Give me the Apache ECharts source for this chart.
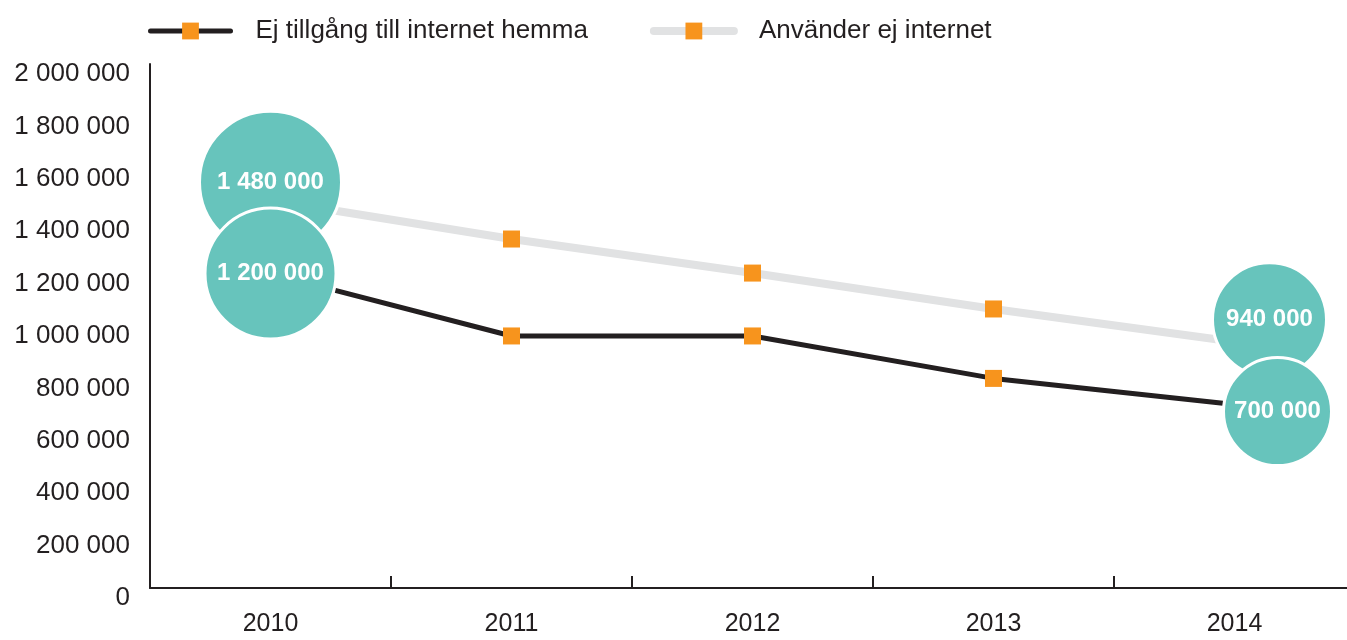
<!DOCTYPE html>
<html>
<head>
<meta charset="utf-8">
<title>Internet hemma</title>
<script src="https://cdn.jsdelivr.net/npm/echarts@6/dist/echarts.min.js"></script>
<style>
    html, body { margin: 0; padding: 0; background: #fff; }
    #main { width: 1347px; height: 640px; }
</style>
</head>
<body>
<div id="main"></div>
<script>
    // data
    var years = ['2010', '2011', '2012', '2013', '2014'];
    var noAccessHome = [1200000, 962000, 962000, 800000, 700000];
    var nonUsers = [1480000, 1332000, 1202000, 1065000, 940000];
    var seriesNames = ['Ej tillgång till internet hemma', 'Använder ej internet'];

    var dark = '#231f20';
    var light = '#e1e2e3';
    var orange = '#f7941d';
    var teal = '#67c4bc';

    // 2 000 000 style numbers
    function fmt(v) {
        return String(v).replace(/\B(?=(\d{3})+(?!\d))/g, ' ');
    }

    // bubbles on first and last year, placed a bit off the point like the original
    var bubbles = {
        dark: { 0: { size: 131, offset: [0, 0] }, 4: { size: 108, offset: [43, 7] } },
        light: { 0: { size: 142, offset: [0, -18] }, 4: { size: 114, offset: [35, -22] } }
    };

    function buildData(values, key) {
        return values.map(function(v, i) {
            var b = bubbles[key][i];
            if (!b) {
                return v;
            }
            return {
                value: v,
                symbol: 'circle',
                symbolSize: b.size,
                symbolOffset: b.offset,
                itemStyle: { color: teal, borderColor: '#fff', borderWidth: 3 },
                label: {
                    show: true,
                    position: 'inside',
                    formatter: fmt(v),
                    color: '#fff',
                    fontSize: 24,
                    fontWeight: 'bold',
                    fontFamily: 'Liberation Sans'
                }
            };
        });
    }

    var chart = echarts.init(document.getElementById('main'), null, { renderer: 'canvas' });

    chart.setOption({
        animation: false,
        textStyle: { fontFamily: 'Liberation Sans' },
        legend: {
            data: [
                { name: seriesNames[0], lineStyle: { width: 5, color: dark, cap: 'round' } },
                { name: seriesNames[1], lineStyle: { width: 8, color: light, cap: 'round' } }
            ],
            left: 148,
            top: 18,
            padding: 0,
            itemWidth: 80,
            itemHeight: 21,
            itemGap: 62,
            selectedMode: false,
            textStyle: {
                fontSize: 26,
                color: dark,
                padding: [0, 0, 0, 20]
            }
        },
        grid: {
            left: 150,
            width: 1205,
            top: 64,
            bottom: 52,
            outerBoundsMode: 'none'
        },
        xAxis: {
            type: 'category',
            data: years,
            boundaryGap: true,
            axisLine: { lineStyle: { color: dark, width: 2 } },
            axisTick: { show: true, inside: true, length: 12, interval: 0, lineStyle: { color: dark, width: 2 } },
            axisLabel: { fontSize: 25, color: dark, margin: 24 }
        },
        yAxis: {
            type: 'value',
            min: 0,
            max: 2000000,
            interval: 200000,
            splitLine: { show: false },
            axisLine: { show: true, lineStyle: { color: dark, width: 2 } },
            axisTick: { show: false },
            axisLabel: {
                fontSize: 26,
                color: dark,
                margin: 20,
                verticalAlign: 'top',
                lineHeight: 20,
                formatter: function(v) { return fmt(v); }
            }
        },
        series: [
            {
                name: seriesNames[1],
                type: 'line',
                data: buildData(nonUsers, 'light'),
                symbol: 'rect',
                symbolSize: 17,
                showAllSymbol: true,
                silent: true,
                itemStyle: { color: orange },
                lineStyle: { color: light, width: 8 },
                z: 2
            },
            {
                name: seriesNames[0],
                type: 'line',
                data: buildData(noAccessHome, 'dark'),
                symbol: 'rect',
                symbolSize: 17,
                showAllSymbol: true,
                silent: true,
                itemStyle: { color: orange },
                lineStyle: { color: dark, width: 5 },
                z: 3
            }
        ]
    });
</script>
</body>
</html>
